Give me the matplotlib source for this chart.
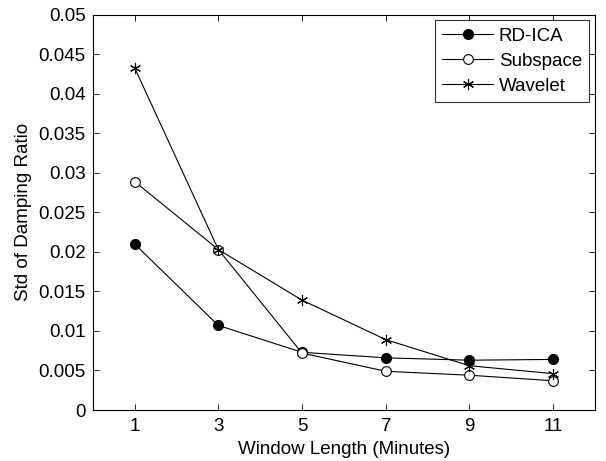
import matplotlib
matplotlib.use("Agg")
import matplotlib.pyplot as plt

plt.rcParams['font.family'] = ['Liberation Sans', 'DejaVu Sans']

window = [1, 3, 5, 7, 9, 11]
rd_ica = [0.0210, 0.0107, 0.0073, 0.0066, 0.0063, 0.0064]
subspace = [0.0289, 0.0203, 0.0072, 0.0049, 0.0044, 0.0037]
wavelet = [0.0433, 0.0203, 0.0139, 0.0089, 0.0056, 0.0046]

yticks = [0, 0.005, 0.01, 0.015, 0.02, 0.025, 0.03, 0.035, 0.04, 0.045, 0.05]
ytick_labels = ["0", "0.005", "0.01", "0.015", "0.02", "0.025", "0.03",
                "0.035", "0.04", "0.045", "0.05"]

fig = plt.figure(figsize=(6.06, 4.61), dpi=100, facecolor="white")
ax = fig.add_axes([0.153, 0.1106, 0.829, 0.8575])

ax.plot(window, rd_ica, color="black", linewidth=0.8, marker="o",
        markersize=7, markerfacecolor="black", markeredgecolor="black",
        label="RD-ICA")
ax.plot(window, subspace, color="black", linewidth=0.8, marker="o",
        markersize=7, markerfacecolor="white", markeredgecolor="black",
        markeredgewidth=0.8, label="Subspace")
ax.plot(window, wavelet, color="black", linewidth=0.8, marker=(6, 2, 0),
        markersize=8, markeredgewidth=0.8, markeredgecolor="black",
        label="Wavelet")

ax.set_xlim(0, 12)
ax.set_ylim(0, 0.05)
ax.set_xticks(window)
ax.set_yticks(yticks)
ax.set_yticklabels(ytick_labels)
ax.tick_params(direction="in", length=4, labelsize=13.5, top=True, right=True,
               width=0.6, pad=5)
ax.tick_params(axis="x", pad=6)
for s in ax.spines.values():
    s.set_linewidth(0.8)

ax.set_xlabel("Window Length (Minutes)", fontsize=13.5, labelpad=4)
ax.set_ylabel("Std of Damping Ratio", fontsize=13.5, labelpad=5)

leg = ax.legend(loc="upper right", fontsize=13.5, frameon=True, fancybox=False,
                edgecolor="black", handlelength=2.7, borderpad=0.4,
                labelspacing=0.42, handletextpad=0.3, borderaxespad=0.3)
leg.get_frame().set_linewidth(0.8)

fig.savefig("out.png", dpi=100)
